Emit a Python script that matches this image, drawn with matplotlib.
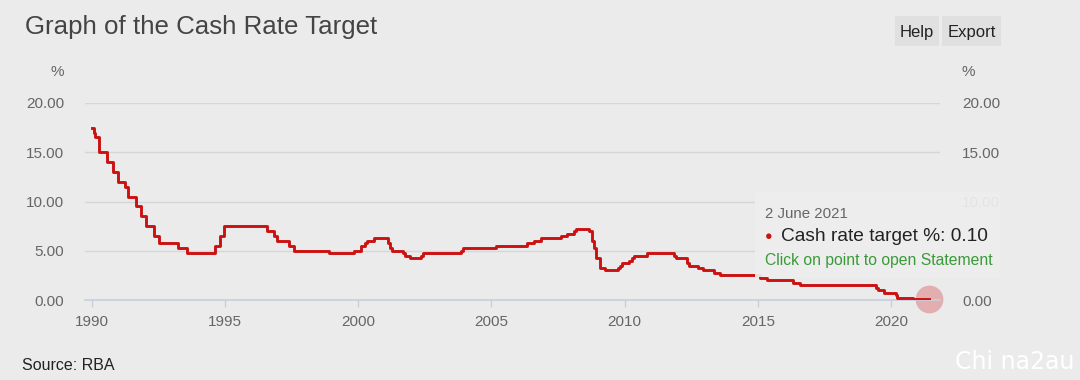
import numpy as np
import pandas as pd
import matplotlib.pyplot as plt
from matplotlib.patches import Rectangle

plt.rcParams['font.family'] = ['Liberation Sans', 'DejaVu Sans']

# RBA cash rate target: date of change, new rate (%)
dates = ['1990-01-01', '1990-01-23', '1990-02-15', '1990-04-04', '1990-08-02', '1990-10-15',
         '1990-12-18', '1991-04-04', '1991-05-16', '1991-09-03', '1991-11-06', '1992-01-08',
         '1992-05-06', '1992-07-08', '1993-03-30', '1993-07-31', '1994-08-17', '1994-10-24',
         '1994-12-14', '1996-07-31', '1996-11-06', '1996-12-11', '1997-05-23', '1997-07-30',
         '1998-12-02', '1999-11-03', '2000-02-02', '2000-04-05', '2000-05-03', '2000-08-02',
         '2001-02-07', '2001-03-07', '2001-04-04', '2001-09-05', '2001-10-03', '2001-12-05',
         '2002-05-08', '2002-06-05', '2003-11-05', '2003-12-03', '2005-03-02', '2006-05-03',
         '2006-08-02', '2006-11-08', '2007-08-08', '2007-11-07', '2008-02-06', '2008-03-05',
         '2008-09-03', '2008-10-08', '2008-11-05', '2008-12-03', '2009-02-04', '2009-04-08',
         '2009-10-07', '2009-11-04', '2009-12-02', '2010-03-03', '2010-04-07', '2010-05-05',
         '2010-11-03', '2011-11-02', '2011-12-07', '2012-05-02', '2012-06-06', '2012-10-03',
         '2012-12-05', '2013-05-08', '2013-08-07', '2015-02-04', '2015-05-06', '2016-05-04',
         '2016-08-03', '2019-06-05', '2019-07-03', '2019-10-02', '2020-03-04', '2020-03-20',
         '2020-11-04', '2021-06-02']
rates = [17.50, 17.00, 16.50, 15.00, 14.00, 13.00,
         12.00, 11.50, 10.50, 9.50, 8.50, 7.50,
         6.50, 5.75, 5.25, 4.75, 5.50, 6.50,
         7.50, 7.00, 6.50, 6.00, 5.50, 5.00,
         4.75, 5.00, 5.50, 5.75, 6.00, 6.25,
         5.75, 5.25, 5.00, 4.75, 4.50, 4.25,
         4.50, 4.75, 5.00, 5.25, 5.50, 5.75,
         6.00, 6.25, 6.50, 6.75, 7.00, 7.25,
         7.00, 6.00, 5.25, 4.25, 3.25, 3.00,
         3.25, 3.50, 3.75, 4.00, 4.25, 4.50,
         4.75, 4.50, 4.25, 3.75, 3.50, 3.25,
         3.00, 2.75, 2.50, 2.25, 2.00, 1.75,
         1.50, 1.25, 1.00, 0.75, 0.50, 0.25,
         0.10, 0.10]

yticks = [0, 5, 10, 15, 20]
xticks = [1990, 1995, 2000, 2005, 2010, 2015, 2020]

d = pd.to_datetime(dates)
years = d.year + (d.dayofyear - 1) / 365.25

bg = '#ebebeb'
fig = plt.figure(figsize=(10.8, 3.8), dpi=100, facecolor=bg)
W, H = 1080, 380
ax = fig.add_axes([85 / W, (H - 300) / H, (940 - 85) / W, 197 / H])
ax.set_facecolor(bg)

ax.step(years, rates, where='post', color='#cc1111', lw=2.1, zorder=3)
ax.plot(years[-1], rates[-1], 'o', ms=20, color='#e09a9c', alpha=0.75,
        mec='none', clip_on=False, zorder=2)

ax.set_xlim(1989.74, 2021.84)
ax.set_ylim(0, 20)
ax.set_yticks(yticks)
ax.set_xticks(xticks)
ax.grid(axis='y', color='#d6d6d6', lw=1)
ax.set_axisbelow(True)
for s in ['top', 'right', 'left']:
    ax.spines[s].set_visible(False)
ax.spines['bottom'].set_color('#c8cfdc')
ax.spines['bottom'].set_linewidth(1.2)
ax.tick_params(axis='x', colors='#c8cfdc', length=5, width=1, labelcolor='#666666',
               labelsize=11, pad=6)
ax.tick_params(axis='y', length=0, labelcolor='#666666', labelsize=11, pad=15)
ax.yaxis.set_major_formatter(lambda v, p: f'{v:.2f}')

ax2 = ax.twinx()
ax2.set_ylim(0, 20)
ax2.set_yticks(yticks)
# the right 5.00 label is hidden behind the tooltip in the original
ax2.yaxis.set_major_formatter(lambda v, p: '' if v == 5 else f'{v:.2f}')
ax2.tick_params(axis='y', length=0, labelcolor='#666666', labelsize=11, pad=16)
for s in ax2.spines.values():
    s.set_visible(False)

fig.text(57 / W, 1 - 72 / H, '%', color='#666666', fontsize=11, ha='center', va='center')
fig.text(968 / W, 1 - 72 / H, '%', color='#666666', fontsize=11, ha='center', va='center')

fig.text(25 / W, 1 - 27 / H, 'Graph of the Cash Rate Target', color='#444444',
         fontsize=18.6, ha='left', va='center')
fig.text(22 / W, 1 - 366 / H, 'Source: RBA', color='#222222', fontsize=11.5,
         ha='left', va='center')

# Help / Export buttons
for x0, x1, lab in [(895, 939, 'Help'), (942, 1001, 'Export')]:
    fig.patches.append(Rectangle((x0 / W, 1 - 46 / H), (x1 - x0) / W, 30 / H,
                                 transform=fig.transFigure, facecolor='#e0e0e0',
                                 edgecolor='none'))
    fig.text((x0 + x1) / 2 / W, 1 - 32 / H, lab, color='#222222', fontsize=12,
             ha='center', va='center')

# tooltip
fig.patches.append(Rectangle((755 / W, 1 - 277 / H), 245 / W, 85 / H,
                             transform=fig.transFigure, facecolor='#eeeeee',
                             edgecolor='none', alpha=0.93, zorder=5))
fig.text(765 / W, 1 - 214 / H, '2 June 2021', color='#666666', fontsize=10.8,
         ha='left', va='center', zorder=6)
fig.text(765 / W, 1 - 237 / H, '●', color='#cc1111', fontsize=9,
         ha='left', va='center', zorder=6)
fig.text(781 / W, 1 - 236 / H, 'Cash rate target %: 0.10', color='#222222', fontsize=13.8,
         ha='left', va='center', zorder=6)
fig.text(765 / W, 1 - 261 / H, 'Click on point to open Statement', color='#3a9a3a',
         fontsize=11.3, ha='left', va='center', zorder=6)

fig.text(1074 / W, 1 - 362 / H, 'Chi na2au', color='white', fontsize=17,
         ha='right', va='center', family='DejaVu Sans')

fig.savefig('out.png', dpi=100, facecolor=bg)
